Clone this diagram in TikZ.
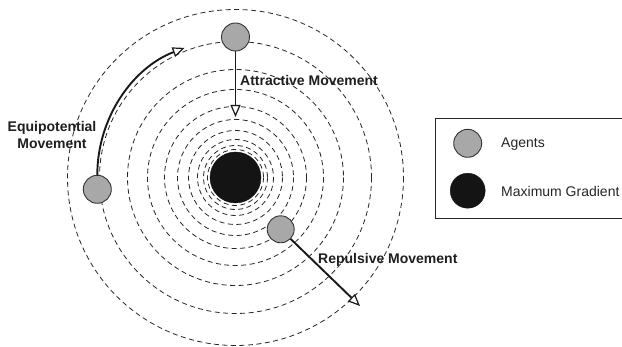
\documentclass[tikz,border=0pt]{standalone}
\usepackage{fontspec}
\setmainfont{Liberation Sans}
\usetikzlibrary{arrows.meta}
\definecolor{agentgray}{HTML}{A8A8A8}
\definecolor{maxblack}{HTML}{141414}
\begin{document}
\begin{tikzpicture}[x=1pt,y=-1pt,
  ring/.style={draw=black!85, line width=0.8pt, dash pattern=on 5pt off 3.5pt},
  agent/.style={circle, draw=black!80, line width=0.9pt, fill=agentgray, minimum size=28pt, inner sep=0pt},
  maxgrad/.style={circle, fill=maxblack, draw=maxblack, inner sep=0pt},
  move/.style={line width=1.9pt, draw=black!90, -{Triangle[length=12pt,width=10pt,fill=white,line width=1.2pt]}},
  lab/.style={font=\fontsize{14}{16.5}\selectfont\bfseries, text=black!88, inner sep=0pt},
  legtext/.style={font=\fontsize{14}{16}\selectfont, text=black!85, inner sep=0pt, anchor=west}]
\fill[white] (0,0) rectangle (622,347);
\useasboundingbox (0,0) rectangle (622,347);
% equipotential rings
\foreach \r in {28,32,38,47,58,71,88,108,136,168}
  \draw[ring] (235.5,177.5) circle[radius=\r];
% maximum gradient
\node[maxgrad, minimum size=51pt] (mg) at (235.5,177.5) {};
% agents
\node[agent] (aT) at (235.5,37) {};
\node[agent] (aL) at (97.3,189.3) {};
\node[agent, minimum size=27pt] (aR) at (280.7,229.3) {};
% movements
\coordinate (atip) at (235.5,117);
\coordinate (rtip) at (360,306);
\draw[move] (aT) -- (atip);
\draw[move] (aL.north) arc[start angle=180, end angle=249, radius=136];
\draw[move] (aR) -- (rtip);
% labels
\node[lab, anchor=west] (la) at (240,80) {Attractive Movement};
\node[lab, align=center] (le) at (52,135) {Equipotential\\Movement};
\node[lab, anchor=west] (lr) at (318,259.5) {Repulsive Movement};
% legend
\draw[line width=0.9pt, draw=black!85] (435.5,118.3) rectangle (640,218.3);
\node[agent] (lgA) at (467.7,143.3) {};
\node[maxgrad, minimum size=35pt] (lgM) at (467.7,190.7) {};
\node[legtext] (tA) at (501,144.3) {Agents};
\node[legtext] (tM) at (501,191.3) {Maximum Gradient};
\end{tikzpicture}
\end{document}
